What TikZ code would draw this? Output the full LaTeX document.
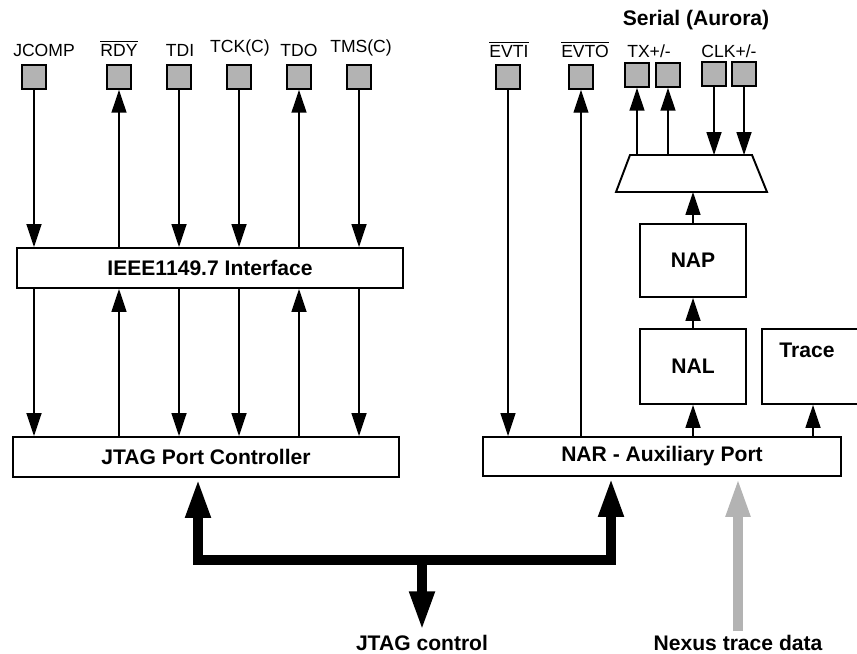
\documentclass[tikz,border=0pt]{standalone}
\usepackage{fontspec}
\setmainfont{Liberation Sans}
\usetikzlibrary{arrows.meta}
\definecolor{padgray}{HTML}{B3B3B3}
\newcommand{\barsig}[1]{$\overline{\mbox{#1}}$}
\tikzset{
	bustip/.tip={Triangle[width=13pt,length=22.7pt]},
	nexustip/.tip={Triangle[width=12.5pt,length=22.7pt]},
	box/.style={draw, line width=1.1pt, inner sep=0pt, font=\bfseries\fontsize{12}{14}\selectfont},
	pad/.style={draw, fill=padgray, line width=1pt, minimum size=0.48cm, inner sep=0pt},
	lbl/.style={font=\fontsize{10}{12}\selectfont, inner sep=0pt, anchor=base},
	bold/.style={font=\bfseries\fontsize{12}{14}\selectfont, inner sep=1.5pt, anchor=base},
	dn/.style={->},
	up/.style={<-},
	thinline/.style={line width=0.6pt},
	bus/.style={line width=5.7pt, line join=miter},
}

\begin{document}
\begin{tikzpicture}[x=0.02cm, y=-0.02cm, line width=0.9pt, >={Triangle[width=8.5pt,length=13pt]}]
	\useasboundingbox (0,0) rectangle (857,653);
	\node[box, minimum width=7.72cm, minimum height=0.8cm] (ieee) at (210,268) {IEEE1149.7 Interface};
	\node[box, minimum width=7.72cm, minimum height=0.8cm] (jpc) at (206,457) {JTAG Port Controller};
	\node[box, minimum width=7.16cm, minimum height=0.78cm] (nar) at (662,456.5) {NAR - Auxiliary Port};
	\node[box, minimum width=2.12cm, minimum height=1.46cm] (nap) at (693,260.5) {NAP};
	\node[box, minimum width=2.12cm, minimum height=1.5cm] (nal) at (693,366.5) {NAL};
	\node[box, minimum width=2.04cm, minimum height=1.5cm] (trace) at (813,366.5) {};
	\node[bold, anchor=center, inner sep=0pt] (tracetxt) at (807,350) {Trace};
	\coordinate (muxn) at (693,155);
	\coordinate (muxs) at (693,192);
	\draw[line width=1.1pt] (616,192) -- (630,155) -- (752,155) -- (767,192) -- cycle;
	\foreach \n/\x/\lx/\ly/\t/\d in {a/34/44/56/JCOMP/dn, b/119/119/56/{\barsig{RDY}}/up, c/179/180/56/TDI/dn,
		d/239/240/52.5/TCK(C)/dn, e/299/299/56/TDO/up, f/359/361/52.5/TMS(C)/dn}{
		\node[pad] (pad\n) at (\x,77) {};
		\node[lbl] (lab\n) at (\lx,\ly) {\t};
		\draw[\d] (pad\n.south) -- (pad\n.south |- ieee.north);
		\draw[\d] (pad\n.south |- ieee.south) -- (pad\n.south |- jpc.north);
	}
	\node[pad] (padevi) at (508,77) {};
	\node[lbl] (labevi) at (509,57) {\barsig{EVTI}};
	\node[pad] (padevo) at (581,77) {};
	\node[lbl] (labevo) at (585,57) {\barsig{EVTO}};
	\draw[thinline, ->] (padevi.south) -- (padevi.south |- nar.north);
	\draw[thinline, <-] (padevo.south) -- (padevo.south |- nar.north);
	\foreach \n/\x/\y/\d in {txa/637/75/up, txb/668/75/up, clka/714/74/dn, clkb/744/74/dn}{
		\node[pad] (pad\n) at (\x,\y) {};
		\draw[\d] (pad\n.south) -- (pad\n.south |- muxn);
	}
	\node[lbl] (labtx) at (649,57) {TX+/-};
	\node[lbl] (labclk) at (729,57) {CLK+/-};
	\node[bold] (serial) at (696,25) {Serial (Aurora)};
	\draw[->] (nap.north) -- (muxs);
	\draw[->] (nal.north) -- (nap.south);
	\draw[->] (nar.north -| nal.south) -- (nal.south);
	\draw[->] (nar.north -| trace.south) -- (trace.south);
	\coordinate (busl) at (198,560);
	\coordinate (busr) at (611,560);
	\coordinate (busm) at (422,560);
	\node[bold] (jctl) at (422,650) {JTAG control};
	\node[bold] (nxt) at (738,650) {Nexus trace data};
	\draw[bus, bustip-bustip] (jpc.south -| busl) -- (busl) -- (busr) -- (nar.south -| busr);
	\draw[bus, -bustip] (busm) -- (jctl.north);
	\draw[padgray, line width=6.2pt, -nexustip] (nxt.north) -- (nar.south -| nxt.north);
\end{tikzpicture}
\end{document}
